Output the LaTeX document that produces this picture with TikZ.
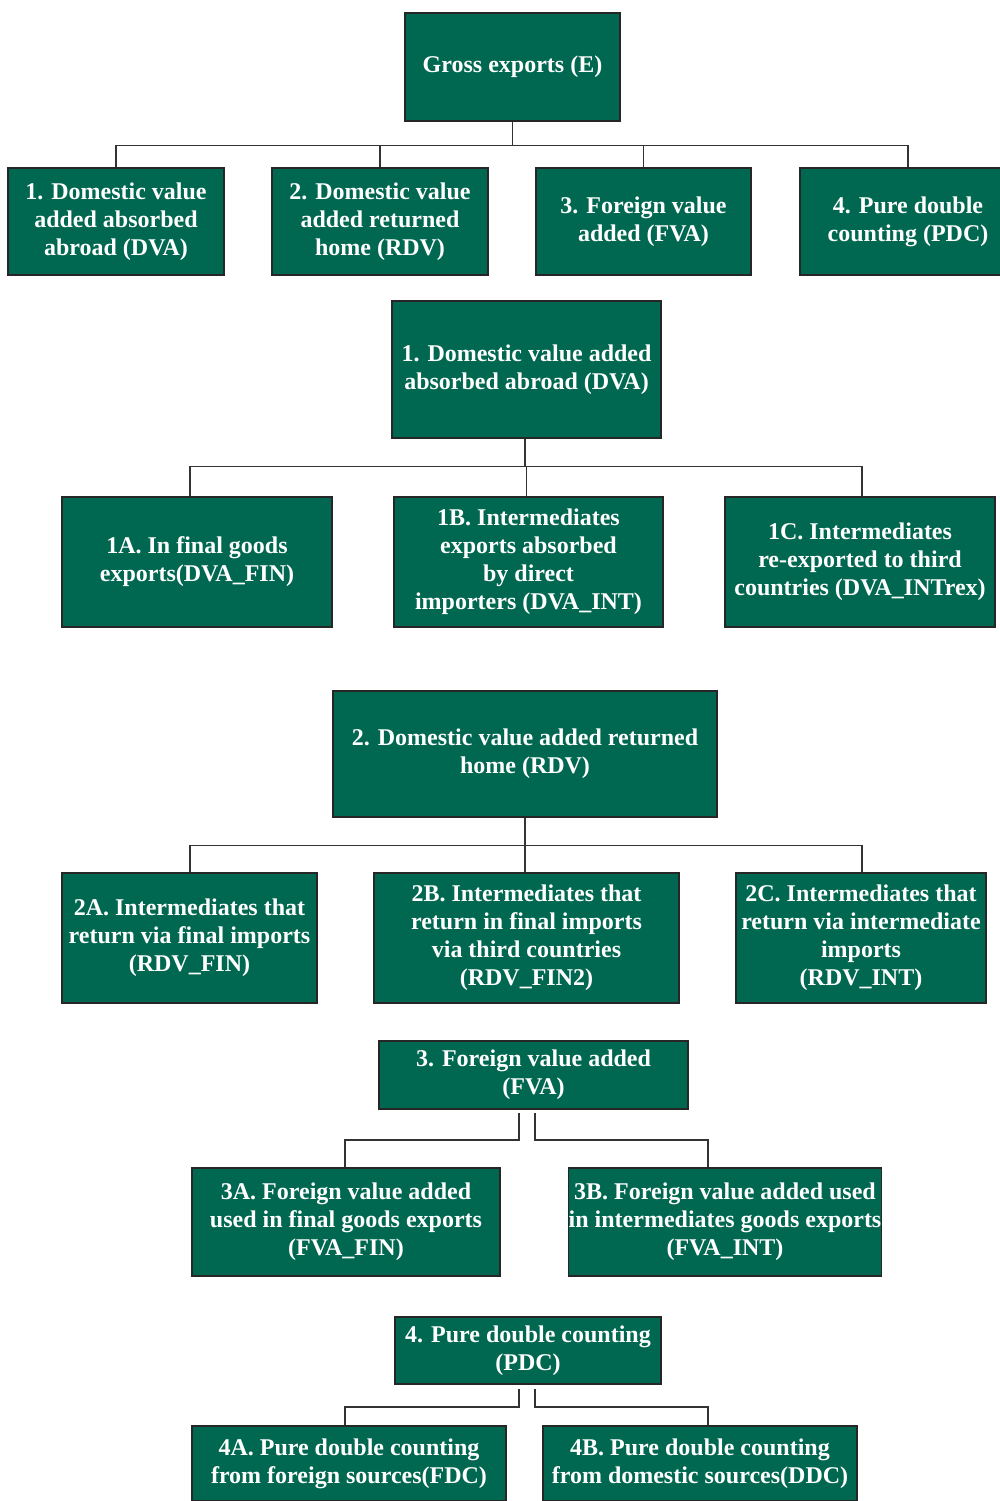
\documentclass[tikz,border=0pt]{standalone}
\usepackage{fontspec}
\setmainfont{Liberation Serif}
\definecolor{boxgreen}{RGB}{0,104,80}

\begin{document}
\begin{tikzpicture}[
    x=1pt, y=-1pt,
    box/.style={rectangle, draw=black!85, line width=1.2pt, fill=boxgreen, text=white, align=center, inner sep=1pt, font=\fontsize{24}{28}\selectfont\bfseries},
    link/.style={draw=black!80, line width=1.2pt}
]
\useasboundingbox (0,0) rectangle (999,1501);

% Top level: gross exports
\node[box, minimum width=215pt, minimum height=108pt] (e) at (512.5,67) {Gross exports (E)};
\node[box, minimum width=216pt, minimum height=107pt] (d1) at (116,221.5) {1. Domestic value\\added absorbed\\abroad (DVA)};
\node[box, minimum width=216pt, minimum height=107pt] (d2) at (380,221.5) {2. Domestic value\\added returned\\home (RDV)};
\node[box, minimum width=215pt, minimum height=107pt] (d3) at (643.5,221.5) {3. Foreign value\\added (FVA)};
\node[box, minimum width=216pt, minimum height=107pt] (d4) at (908,221.5) {4. Pure double\\counting (PDC)};

% Part 1: DVA
\node[box, minimum width=269pt, minimum height=137pt] (dva) at (526.5,369.5) {1. Domestic value added\\absorbed abroad (DVA)};
\node[box, minimum width=270pt, minimum height=130pt] (a1) at (197,562) {1A. In final goods\\exports(DVA\_FIN)};
\node[box, minimum width=269pt, minimum height=130pt] (b1) at (528.5,562) {1B. Intermediates\\exports absorbed\\by direct\\importers (DVA\_INT)};
\node[box, minimum width=270pt, minimum height=130pt] (c1) at (860,562) {1C. Intermediates\\re-exported to third\\countries (DVA\_INTrex)};

% Part 2: RDV
\node[box, minimum width=384pt, minimum height=126pt] (rdv) at (525,754) {2. Domestic value added returned\\home (RDV)};
\node[box, minimum width=255pt, minimum height=130pt] (a2) at (189.5,938) {2A. Intermediates that\\return via final imports\\(RDV\_FIN)};
\node[box, minimum width=305pt, minimum height=130pt] (b2) at (526.5,938) {2B. Intermediates that\\return in final imports\\via third countries\\(RDV\_FIN2)};
\node[box, minimum width=250pt, minimum height=130pt] (c2) at (861,938) {2C. Intermediates that\\return via intermediate\\imports\\(RDV\_INT)};

% Part 3: FVA
\node[box, minimum width=309pt, minimum height=68pt] (fva) at (533.5,1075) {3. Foreign value added\\(FVA)};
\node[box, minimum width=308pt, minimum height=108pt] (a3) at (346,1222) {3A. Foreign value added\\used in final goods exports\\(FVA\_FIN)};
\node[box, minimum width=308pt, minimum height=108pt, inner sep=0pt] (b3) at (725,1222) {3B. Foreign value added used\\in intermediates goods exports\\(FVA\_INT)};

% Part 4: PDC
\node[box, minimum width=266pt, minimum height=67pt] (pdc) at (528,1350.5) {4. Pure double counting\\(PDC)};
\node[box, minimum width=314pt, minimum height=75pt] (a4) at (349,1463.5) {4A. Pure double counting\\from foreign sources(FDC)};
\node[box, minimum width=314pt, minimum height=75pt] (b4) at (700,1463.5) {4B. Pure double counting\\from domestic sources(DDC)};

% Connectors
\foreach \n in {d1,d2,d3,d4}
    \draw[link] (e.south) -- ++(0,24) -| (\n.north);
\foreach \n/\dx in {a1/-7,b1/-2,c1/2}
    \draw[link] ([xshift=-1.5pt]dva.south) -- ++(0,28) -| ([xshift=\dx pt]\n.north);
\foreach \n/\dx in {a2/0.5,b2/-1.5,c2/1}
    \draw[link] (rdv.south) -- ++(0,28) -| ([xshift=\dx pt]\n.north);

\coordinate (fvaL) at (519,1113);
\coordinate (fvaR) at (535,1113);
\draw[link] (fvaL) -- ++(0,27) -| ([xshift=-1pt]a3.north);
\draw[link] (fvaR) -- ++(0,27) -| ([xshift=-17pt]b3.north);

\coordinate (pdcL) at (519,1389);
\coordinate (pdcR) at (535,1389);
\draw[link] (pdcL) -- ++(0,18) -| ([xshift=-4pt]a4.north);
\draw[link] (pdcR) -- ++(0,18) -| ([xshift=8pt]b4.north);

\end{tikzpicture}
\end{document}
